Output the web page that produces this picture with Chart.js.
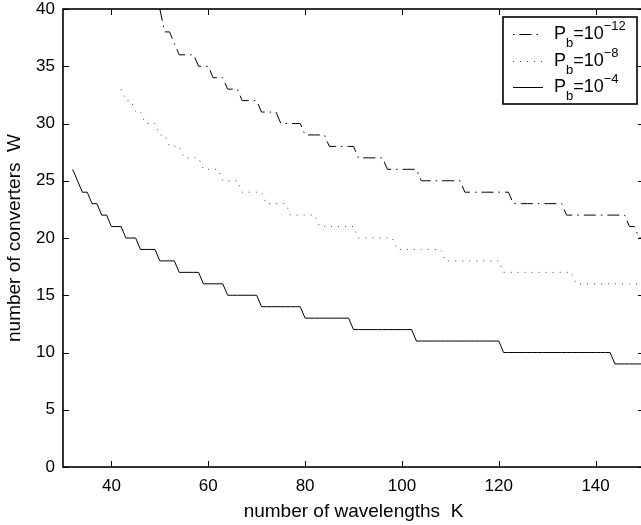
<!DOCTYPE html>
<html>
<head>
<meta charset="utf-8">
<script src="https://cdn.jsdelivr.net/npm/chart.js@4.4.1/dist/chart.umd.min.js"></script>
<style>
  html, body { margin: 0; padding: 0; background: #fff; overflow: hidden; }
</style>
</head>
<body>
<canvas id="chart" width="646" height="525"></canvas>
<script>
// number of wavelengths K (x categories)
const wavelengths = [
  30, 31, 32, 33, 34, 35, 36, 37, 38, 39,
  40, 41, 42, 43, 44, 45, 46, 47, 48, 49,
  50, 51, 52, 53, 54, 55, 56, 57, 58, 59,
  60, 61, 62, 63, 64, 65, 66, 67, 68, 69,
  70, 71, 72, 73, 74, 75, 76, 77, 78, 79,
  80, 81, 82, 83, 84, 85, 86, 87, 88, 89,
  90, 91, 92, 93, 94, 95, 96, 97, 98, 99,
  100, 101, 102, 103, 104, 105, 106, 107, 108, 109,
  110, 111, 112, 113, 114, 115, 116, 117, 118, 119,
  120, 121, 122, 123, 124, 125, 126, 127, 128, 129,
  130, 131, 132, 133, 134, 135, 136, 137, 138, 139,
  140, 141, 142, 143, 144, 145, 146, 147, 148, 149,
  150
];

// number of converters W, one row per ten K values
const wPb12 = [
  null, null, null, null, null, null, null, null, null, null,
  null, null, null, null, null, null, null, null, null, null,
  40, 38, 38, 37, 36, 36, 36, 36, 35, 35,
  35, 34, 34, 34, 33, 33, 33, 32, 32, 32,
  32, 31, 31, 31, 31, 30, 30, 30, 30, 30,
  29, 29, 29, 29, 29, 28, 28, 28, 28, 28,
  28, 27, 27, 27, 27, 27, 27, 26, 26, 26,
  26, 26, 26, 26, 25, 25, 25, 25, 25, 25,
  25, 25, 25, 24, 24, 24, 24, 24, 24, 24,
  24, 24, 24, 23, 23, 23, 23, 23, 23, 23,
  23, 23, 23, 23, 22, 22, 22, 22, 22, 22,
  22, 22, 22, 22, 22, 22, 22, 21, 21, 20,
  20
];

const wPb8 = [
  null, null, null, null, null, null, null, null, null, null,
  null, null, 33, 32, 32, 31, 31, 30, 30, 30,
  29, 29, 28, 28, 28, 27, 27, 27, 27, 26,
  26, 26, 26, 25, 25, 25, 25, 24, 24, 24,
  24, 24, 23, 23, 23, 23, 23, 22, 22, 22,
  22, 22, 22, 21, 21, 21, 21, 21, 21, 21,
  21, 20, 20, 20, 20, 20, 20, 20, 20, 19,
  19, 19, 19, 19, 19, 19, 19, 19, 19, 18,
  18, 18, 18, 18, 18, 18, 18, 18, 18, 18,
  18, 17, 17, 17, 17, 17, 17, 17, 17, 17,
  17, 17, 17, 17, 17, 17, 16, 16, 16, 16,
  16, 16, 16, 16, 16, 16, 16, 16, 16, 16,
  16
];

const wPb4 = [
  null, null, 26, 25, 24, 24, 23, 23, 22, 22,
  21, 21, 21, 20, 20, 20, 19, 19, 19, 19,
  18, 18, 18, 18, 17, 17, 17, 17, 17, 16,
  16, 16, 16, 16, 15, 15, 15, 15, 15, 15,
  15, 14, 14, 14, 14, 14, 14, 14, 14, 14,
  13, 13, 13, 13, 13, 13, 13, 13, 13, 13,
  12, 12, 12, 12, 12, 12, 12, 12, 12, 12,
  12, 12, 12, 11, 11, 11, 11, 11, 11, 11,
  11, 11, 11, 11, 11, 11, 11, 11, 11, 11,
  11, 10, 10, 10, 10, 10, 10, 10, 10, 10,
  10, 10, 10, 10, 10, 10, 10, 10, 10, 10,
  10, 10, 10, 10, 9, 9, 9, 9, 9, 9,
  9
];

const xTicks = [40, 60, 80, 100, 120, 140];
const yTicks = [0, 5, 10, 15, 20, 25, 30, 35, 40];
const exponents = ["\u221212", "\u22128", "\u22124"];

const FONT = "'Liberation Sans', Arial, Helvetica, sans-serif";
const dashes = [[12, 5, 1.5, 5], [1, 6], []];
const colors = ["#000", "#444", "#000"];

function pts(w) {
  return wavelengths.map((k, i) => ({ x: k, y: w[i] })).filter(p => p.y !== null);
}

// drop the label overhang padding so the frame sits where the figure has it
function noPad(s) {
  s.paddingTop = 0; s.paddingBottom = 0; s.paddingLeft = 0; s.paddingRight = 0;
}

// MATLAB style frame with inward ticks on all four sides
const framePlugin = {
  id: "frame",
  afterDatasetsDraw(chart) {
    const { ctx, chartArea: a, scales } = chart;
    ctx.save();
    ctx.strokeStyle = "#000";
    ctx.lineWidth = 1.6;
    ctx.strokeRect(a.left, a.top, a.right - a.left, a.bottom - a.top);
    ctx.lineWidth = 1;
    ctx.beginPath();
    xTicks.forEach(v => {
      const x = Math.round(scales.x.getPixelForValue(v)) + 0.5;
      ctx.moveTo(x, a.bottom); ctx.lineTo(x, a.bottom - 6);
      ctx.moveTo(x, a.top); ctx.lineTo(x, a.top + 6);
    });
    yTicks.forEach(v => {
      const y = Math.round(scales.y.getPixelForValue(v)) + 0.5;
      ctx.moveTo(a.left, y); ctx.lineTo(a.left + 6, y);
      ctx.moveTo(a.right, y); ctx.lineTo(a.right - 6, y);
    });
    ctx.stroke();
    ctx.restore();
  }
};

// legend with P_b subscript and exponent superscript
const legendPlugin = {
  id: "pbLegend",
  afterDraw(chart) {
    const { ctx, chartArea: a } = chart;
    const right = a.right - 7, top = a.top + 8;
    const left = right - 134, bottom = top + 87;
    ctx.save();
    ctx.fillStyle = "#fff";
    ctx.fillRect(left, top, right - left, bottom - top);
    ctx.strokeStyle = "#000";
    ctx.lineWidth = 1.6;
    ctx.strokeRect(left, top, right - left, bottom - top);
    chart.data.datasets.forEach((ds, i) => {
      const y = top + 17 + i * 26.5;
      ctx.lineWidth = 1;
      ctx.strokeStyle = ds.borderColor;
      ctx.setLineDash(ds.borderDash);
      ctx.lineDashOffset = i === 0 ? 17 : 0;
      ctx.beginPath();
      ctx.moveTo(left + 10, Math.round(y) + 0.5);
      ctx.lineTo(left + 40, Math.round(y) + 0.5);
      ctx.stroke();
      ctx.setLineDash([]);
      ctx.fillStyle = "#000";
      ctx.textBaseline = "alphabetic";
      let x = left + 51;
      const base = y + 5;
      ctx.font = "18px " + FONT;
      ctx.fillText("P", x, base); x += ctx.measureText("P").width;
      ctx.font = "13px " + FONT;
      ctx.fillText("b", x, base + 8); x += ctx.measureText("b").width;
      ctx.font = "18px " + FONT;
      ctx.fillText("=10", x, base); x += ctx.measureText("=10").width;
      ctx.font = "13px " + FONT;
      ctx.fillText(exponents[i], x, base - 9);
    });
    ctx.restore();
  }
};

new Chart(document.getElementById("chart"), {
  type: "line",
  data: {
    datasets: [
      { label: "Pb=10^-12", data: pts(wPb12), borderDash: dashes[0], borderColor: colors[0] },
      { label: "Pb=10^-8", data: pts(wPb8), borderDash: dashes[1], borderColor: colors[1] },
      { label: "Pb=10^-4", data: pts(wPb4), borderDash: dashes[2], borderColor: colors[2] }
    ].map(d => Object.assign(d, {
      borderWidth: 1, pointRadius: 0, tension: 0, fill: false
    }))
  },
  options: {
    responsive: false,
    animation: false,
    devicePixelRatio: 1,
    layout: { autoPadding: false, padding: { top: 9, right: 2, left: 0, bottom: 0 } },
    plugins: { legend: { display: false }, tooltip: { enabled: false } },
    scales: {
      x: {
        type: "linear", min: 30, max: 150,
        afterBuildTicks: s => { s.ticks = xTicks.map(v => ({ value: v })); },
        afterFit: s => { s.height = 58; noPad(s); },
        grid: { display: false, drawTicks: false },
        border: { display: false },
        ticks: { color: "#000", padding: 9, font: { family: FONT, size: 17 } },
        title: { display: true, text: "number of wavelengths  K", color: "#000",
                 font: { family: FONT, size: 19 }, padding: { top: 0, bottom: 2 } }
      },
      y: {
        min: 0, max: 40,
        afterBuildTicks: s => { s.ticks = yTicks.map(v => ({ value: v })); },
        afterFit: s => { s.width = 63; noPad(s); },
        grid: { display: false, drawTicks: false },
        border: { display: false },
        ticks: { color: "#000", padding: 8, font: { family: FONT, size: 17 } },
        title: { display: true, text: "number of converters  W", color: "#000",
                 font: { family: FONT, size: 19 }, padding: { top: 3, bottom: 0 } }
      }
    }
  },
  plugins: [framePlugin, legendPlugin]
});
</script>
</body>
</html>
